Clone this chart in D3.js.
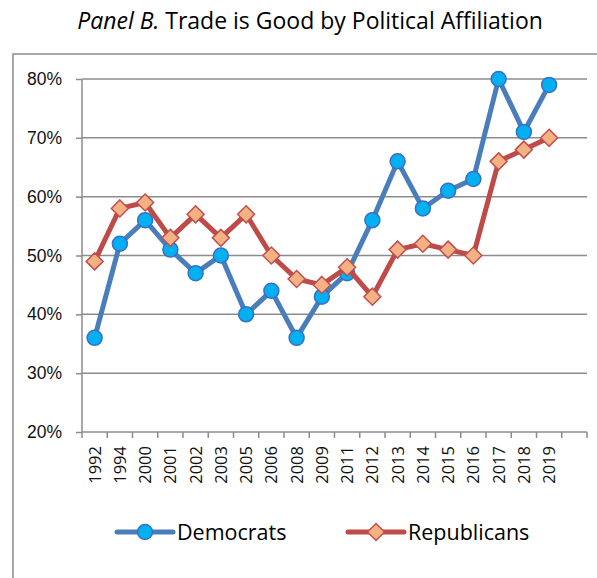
<!DOCTYPE html>
<meta charset="utf-8">
<style>

body {
  margin: 0;
  background: #fff;
  font-family: "Open Sans", sans-serif;
}

.grid line {
  stroke: #8c8c8c;
  stroke-width: 1.5px;
}

.axis path,
.axis line {
  stroke: #8c8c8c;
  stroke-width: 1.5px;
}

.axis text {
  fill: #111;
}

</style>
<svg id="chart" width="597" height="578"></svg>
<script src="https://cdn.jsdelivr.net/npm/d3@7"></script>
<script>

var years = ["1992", "1994", "2000", "2001", "2002", "2003", "2005", "2006", "2008", "2009",
             "2011", "2012", "2013", "2014", "2015", "2016", "2017", "2018", "2019", ""];

var democrats   = [36, 52, 56, 51, 47, 50, 40, 44, 36, 43, 47, 56, 66, 58, 61, 63, 80, 71, 79];
var republicans = [49, 58, 59, 53, 57, 53, 57, 50, 46, 45, 48, 43, 51, 52, 51, 50, 66, 68, 70];

var yTicks = [20, 30, 40, 50, 60, 70, 80];

var series = [
  { name: "Democrats",   values: democrats,   line: "#4a7ebb", fill: "#00b0f0", stroke: "#3a6fc4", shape: "circle" },
  { name: "Republicans", values: republicans, line: "#be4b48", fill: "#f4b183", stroke: "#c0504d", shape: "diamond" }
];

var svg = d3.select("#chart");

// plot box (avoid "top": it is window.top in the browser)
var plotL = 82, plotR = 587, plotT = 79, plotB = 432;

// outer chart frame (only left + top visible in the crop)
svg.append("path")
    .attr("d", "M13,600 L13,54 L620,54")
    .attr("fill", "none")
    .attr("stroke", "#8c8c8c")
    .attr("stroke-width", 1.5);

svg.append("text")
    .attr("x", 310)
    .attr("y", 29)
    .attr("text-anchor", "middle")
    .style("font-size", "23px")
    .call(function (t) {
      t.append("tspan").style("font-style", "italic").text("Panel B.");
      t.append("tspan").text(" Trade is Good by Political Affiliation");
    });

var x = d3.scaleBand()
    .domain(d3.range(years.length))
    .range([plotL, plotR]);

var y = d3.scaleLinear()
    .domain([20, 80])
    .range([plotB, plotT]);

// horizontal gridlines
svg.append("g")
    .attr("class", "grid")
  .selectAll("line")
  .data(yTicks.slice(1))
  .enter().append("line")
    .attr("x1", plotL)
    .attr("x2", plotR)
    .attr("y1", function (d) { return y(d); })
    .attr("y2", function (d) { return y(d); });

// y axis
var yAxis = svg.append("g")
    .attr("class", "axis")
    .attr("transform", "translate(" + plotL + ",0)")
    .call(d3.axisLeft(y).tickValues(yTicks).tickSize(6).tickPadding(14)
      .tickFormat(function (d) { return d + "%"; }));
yAxis.select(".domain").attr("d", "M0," + plotT + "V" + plotB);
yAxis.selectAll("text").style("font-size", "17.5px");

// x axis with ticks between categories
var xAxis = svg.append("g")
    .attr("class", "axis")
    .attr("transform", "translate(0," + plotB + ")");

xAxis.append("line")
    .attr("x1", plotL).attr("x2", plotR);

xAxis.selectAll(".tick")
  .data(d3.range(years.length + 1))
  .enter().append("line")
    .attr("class", "tick")
    .attr("x1", function (i) { return plotL + i * x.bandwidth(); })
    .attr("x2", function (i) { return plotL + i * x.bandwidth(); })
    .attr("y1", 0)
    .attr("y2", 6);

xAxis.selectAll("text")
  .data(years)
  .enter().append("text")
    .attr("transform", function (d, i) {
      return "translate(" + (x(i) + x.bandwidth() / 2 + 6) + ",14) rotate(-90)";
    })
    .attr("text-anchor", "end")
    .style("font-size", "16.5px")
    .text(function (d) { return d; });

var line = d3.line()
    .x(function (d, i) { return x(i) + x.bandwidth() / 2; })
    .y(function (d) { return y(d); });

function marker(sel, s) {
  if (s.shape === "circle") {
    sel.append("circle").attr("r", 7.5);
  } else {
    sel.append("path").attr("d", "M0,-8.5L8.5,0L0,8.5L-8.5,0Z");
  }
  sel.attr("fill", s.fill).attr("stroke", s.stroke).attr("stroke-width", 1.5);
}

series.forEach(function (s) {
  svg.append("path")
      .datum(s.values)
      .attr("d", line)
      .attr("fill", "none")
      .attr("stroke", s.line)
      .attr("stroke-width", 5)
      .attr("stroke-linejoin", "round");

  svg.append("g").selectAll("g")
    .data(s.values)
    .enter().append("g")
      .attr("transform", function (d, i) {
        return "translate(" + (x(i) + x.bandwidth() / 2) + "," + y(d) + ")";
      })
      .each(function () { marker(d3.select(this), s); });
});

// legend
var legendX = [117, 348];
series.forEach(function (s, i) {
  var g = svg.append("g").attr("transform", "translate(" + legendX[i] + ",532)");
  g.append("line")
      .attr("x1", 0).attr("x2", 56)
      .attr("stroke", s.line)
      .attr("stroke-width", 5)
      .attr("stroke-linecap", "round");
  g.append("g")
      .attr("transform", "translate(28,0)")
      .each(function () { marker(d3.select(this), s); });
  g.append("text")
      .attr("x", 60)
      .attr("y", 7.5)
      .style("font-size", "21.5px")
      .text(s.name);
});

</script>
